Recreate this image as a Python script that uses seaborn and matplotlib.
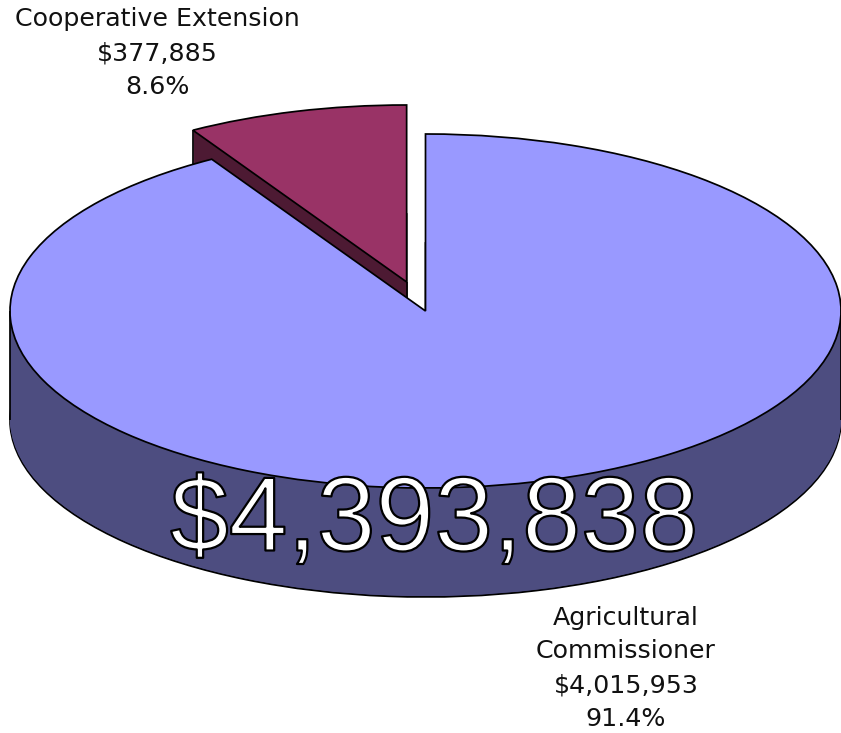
import numpy as np
import matplotlib
matplotlib.use("Agg")
from matplotlib import pyplot as plt
from matplotlib import patheffects as pe
import seaborn as sb

names = ["Cooperative Extension", "Agricultural\nCommissioner"]
amounts = [377885, 4015953]
amount_labels = ["$377,885", "$4,015,953"]
pct_labels = ["8.6%", "91.4%"]
total_label = "$4,393,838"

top_colors = ["#993366", "#9999FF"]
side_colors = ["#4D1A33", "#4D4D80"]

W, H = 841, 733
CX, CY, RX, RY = 425.5, 311.0, 415.5, 177.0
DEPTH = 109 / RY
EXPLODE = 0.17
LW = 1.25
TXT = 18.2

sb.set_theme(style="white")
plt.rcParams["font.family"] = ["DejaVu Sans"]

fig = plt.figure(figsize=(W / 100, H / 100), dpi=100)
ax = fig.add_axes([0, 0, 1, 1])


def slice_pie(idx, center=(0, 0), face=None, edge=None):
    # draw one slice of the pie, the other one stays invisible
    colors = [face if i == idx else "none" for i in range(2)]
    wedges, _ = ax.pie(amounts, startangle=90, counterclock=True, radius=1,
                       explode=[EXPLODE, 0], center=center, colors=colors,
                       frame=True)
    for i, w in enumerate(wedges):
        w.set_edgecolor(edge if (i == idx and edge is not None) else "none")
        w.set_linewidth(LW)
        if i != idx:
            w.set_visible(False)
    return wedges[idx]


def wall(idx):
    # side wall = the slice stacked downwards
    slice_pie(idx, (0, -DEPTH), side_colors[idx], "black")
    for d in np.linspace(DEPTH * 0.99, 0, 110):
        w = slice_pie(idx, (0, -d), side_colors[idx])
    return w


# small slice first, the big top hides most of its wall
w = wall(0)
a = np.radians(w.theta2)
cx, cy = w.center
ax.vlines([cx + np.cos(a), cx], [cy + np.sin(a) - DEPTH, cy - DEPTH],
          [cy + np.sin(a), cy], color="black", lw=LW, zorder=1)
wall(1)
ax.vlines([-1, 1], -DEPTH, 0, color="black", lw=LW, zorder=1)
slice_pie(1, (0, 0), top_colors[1], "black")
slice_pie(0, (0, 0), top_colors[0], "black")

ax.set_aspect("auto")
ax.set_xlim(-CX / RX, (W - CX) / RX)
ax.set_ylim((CY - H) / RY, CY / RY)
ax.set_xticks([])
ax.set_yticks([])
for s in ax.spines.values():
    s.set_visible(False)


def label(x, y, s, **kw):
    return fig.text(x / W, 1 - y / H, s, ha="center", va="center", **kw)


for y, s in zip([19, 53, 87], [names[0], amount_labels[0], pct_labels[0]]):
    label(157, y, s, fontsize=TXT, color="#111111")

lines = names[1].split("\n") + [amount_labels[1], pct_labels[1]]
for y, s in zip([618, 651, 685, 719], lines):
    label(626, y, s, fontsize=TXT, color="#111111")

big = label(434, 523, total_label, fontsize=76, color="white",
            family="Liberation Sans")
# outline centred on the glyph edge keeps the white part thin
big.set_path_effects([pe.Stroke(linewidth=1.6, foreground="black")])

fig.savefig("out.png", dpi=100, facecolor="white")
